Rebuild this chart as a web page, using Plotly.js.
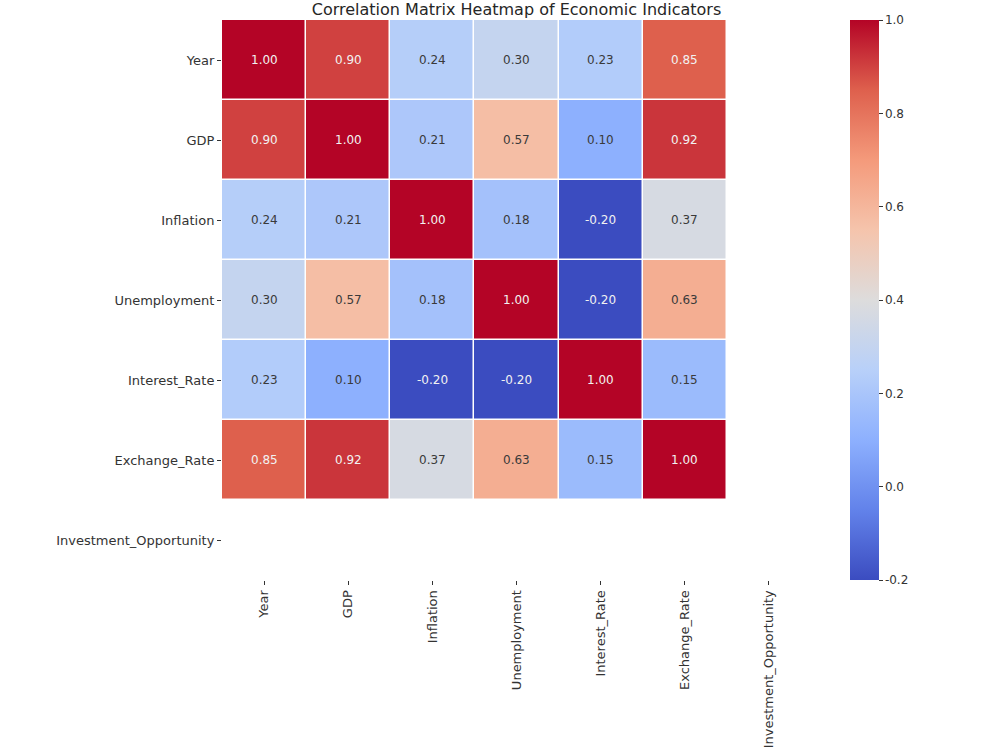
<!DOCTYPE html>
<html>
<head>
<meta charset="utf-8">
<script src="https://cdn.plot.ly/plotly-3.0.1.min.js"></script>
<style>
  html, body { margin: 0; padding: 0; background: #ffffff; }
  #chart { width: 1000px; height: 750px; }
</style>
</head>
<body>
<div id="chart"></div>
<script>
// Indicator names used on both axes
const indicators = ["Year", "GDP", "Inflation", "Unemployment", "Interest_Rate", "Exchange_Rate", "Investment_Opportunity"];

// Pairwise correlations, one row per indicator (null = no value)
const rowYear          = [1.00, 0.90, 0.24, 0.30, 0.23, 0.85, null];
const rowGDP           = [0.90, 1.00, 0.21, 0.57, 0.10, 0.92, null];
const rowInflation     = [0.24, 0.21, 1.00, 0.18, -0.20, 0.37, null];
const rowUnemployment  = [0.30, 0.57, 0.18, 1.00, -0.20, 0.63, null];
const rowInterestRate  = [0.23, 0.10, -0.20, -0.20, 1.00, 0.15, null];
const rowExchangeRate  = [0.85, 0.92, 0.37, 0.63, 0.15, 1.00, null];
const rowInvestment    = [null, null, null, null, null, null, null];

const matrix = [rowYear, rowGDP, rowInflation, rowUnemployment, rowInterestRate, rowExchangeRate, rowInvestment];

const colorbarTicks = [-0.2, 0.0, 0.2, 0.4, 0.6, 0.8, 1.0];

// Diverging blue–grey–red scale
const coolwarm = [
  [0.000, "#3b4cc0"],
  [0.125, "#6282ea"],
  [0.250, "#8db0fe"],
  [0.375, "#b8d0f9"],
  [0.500, "#dddcdc"],
  [0.625, "#f5c4ac"],
  [0.750, "#f49a7b"],
  [0.875, "#de604d"],
  [1.000, "#b40426"]
];

const zmin = -0.2, zmax = 1.0;
const fontFamily = "DejaVu Sans, sans-serif";

// Cell labels: light text on strong colours, dark text elsewhere
const annotations = [];
matrix.forEach((row, i) => {
  row.forEach((v, j) => {
    if (v === null) return;
    const t = (v - zmin) / (zmax - zmin);
    const light = t > 0.82 || t < 0.12;
    annotations.push({
      x: indicators[j], y: indicators[i], xref: "x", yref: "y",
      text: v.toFixed(2), showarrow: false,
      font: { family: fontFamily, size: 12, color: light ? "#f2f2f2" : "#3a3a3a" }
    });
  });
});

const trace = {
  type: "heatmap",
  x: indicators,
  y: indicators,
  z: matrix,
  zmin: zmin,
  zmax: zmax,
  colorscale: coolwarm,
  xgap: 1.5,
  ygap: 1.5,
  hoverongaps: false,
  colorbar: {
    x: 1.066, xanchor: "left", xref: "paper",
    y: 0.5, yanchor: "middle",
    xpad: 0, ypad: 0,
    thickness: 29, thicknessmode: "pixels",
    len: 560, lenmode: "pixels",
    outlinewidth: 0,
    tickvals: colorbarTicks,
    ticktext: colorbarTicks.map(v => v.toFixed(1)),
    ticks: "outside", ticklen: 4, tickcolor: "#333",
    tickfont: { family: fontFamily, size: 12, color: "#333" }
  }
};

const axisFont = { family: fontFamily, size: 13, color: "#333" };

const layout = {
  width: 1000, height: 750,
  margin: { l: 222, r: 189, t: 20, b: 170 },
  paper_bgcolor: "#ffffff",
  plot_bgcolor: "#ffffff",
  title: {
    text: "Correlation Matrix Heatmap of Economic Indicators",
    font: { family: fontFamily, size: 16, color: "#262626" },
    xref: "paper", x: 0.5, xanchor: "center",
    yref: "container", y: 0.988, yanchor: "middle"
  },
  xaxis: {
    type: "category", tickangle: -90,
    ticks: "outside", ticklen: 4, tickcolor: "#333",
    tickfont: axisFont, showgrid: false, zeroline: false, showline: false
  },
  yaxis: {
    type: "category", autorange: "reversed",
    ticks: "outside", ticklen: 4, tickcolor: "#333",
    tickfont: axisFont, showgrid: false, zeroline: false, showline: false
  },
  annotations: annotations
};

Plotly.newPlot("chart", [trace], layout, { displayModeBar: false, staticPlot: true });
</script>
</body>
</html>
